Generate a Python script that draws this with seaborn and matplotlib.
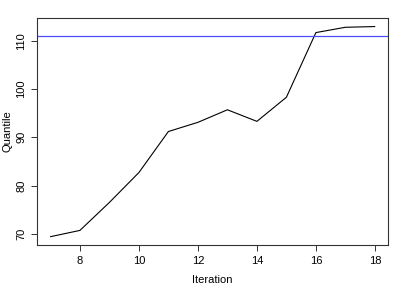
import pandas as pd
import matplotlib
matplotlib.use('Agg')
import matplotlib.pyplot as plt
import seaborn as sns

# Values
iteration = [7, 8, 9, 10, 11, 12, 13, 14, 15, 16, 17, 18]
quantile = [69.4, 70.7, 76.5, 82.7, 91.2, 93.1, 95.7, 93.3, 98.3, 111.7, 112.8, 112.95]
target = 111.0

df = pd.DataFrame({'Iteration': iteration, 'Quantile': quantile})

sns.set_style('white')
plt.rcParams['font.family'] = ['Liberation Sans', 'DejaVu Sans']
plt.rcParams['text.color'] = 'black'
plt.rcParams['axes.labelcolor'] = 'black'
plt.rcParams['xtick.color'] = 'black'
plt.rcParams['ytick.color'] = 'black'

fig = plt.figure(figsize=(4.07, 2.83), dpi=100)
ax = fig.add_axes([0.092, 0.134, 0.861, 0.802])

sns.lineplot(data=df, x='Iteration', y='Quantile', color='black', linewidth=0.8, ax=ax)
ax.axhline(target, color='#4d4dff', linewidth=0.9)

ax.set_xlim(6.56, 18.44)
ax.set_ylim(67.66, 114.7)
ax.set_xticks([8, 10, 12, 14, 16, 18])
ax.set_yticks([70, 80, 90, 100, 110])
for lab in ax.get_yticklabels():
    lab.set_rotation(90)
    lab.set_va('center')
ax.tick_params(axis='both', labelsize=8, length=4, width=0.7, color='#333333',
               direction='out', left=True, bottom=True, pad=4)
for s in ax.spines.values():
    s.set_linewidth(0.8)
    s.set_color('#333333')
ax.set_xlabel('Iteration', fontsize=8, labelpad=6)
ax.set_ylabel('Quantile', fontsize=8, labelpad=3)

fig.savefig('out.png', dpi=100)
plt.close()
